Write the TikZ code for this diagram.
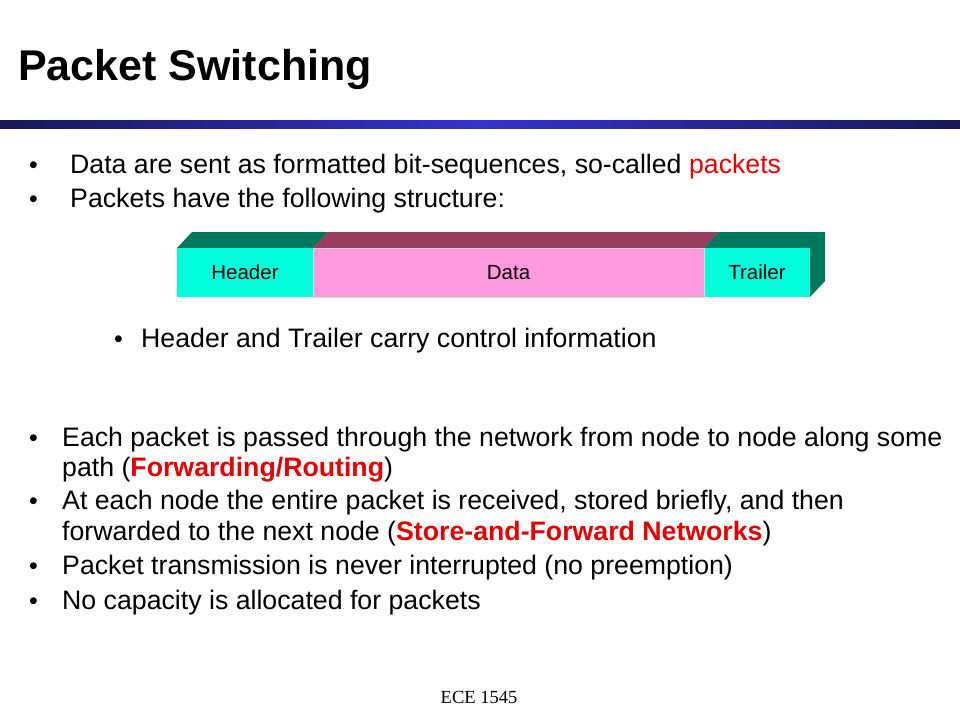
\documentclass[tikz,border=0pt]{standalone}
\usepackage{fontspec}
\setmainfont{Liberation Sans}
\newfontfamily\footfont{Liberation Serif}
\definecolor{navyedge}{RGB}{24,24,90}
\definecolor{navymid}{RGB}{51,51,208}
\definecolor{frontcyan}{RGB}{0,255,221}
\definecolor{topgreen}{RGB}{0,120,94}
\definecolor{frontpink}{RGB}{255,153,221}
\definecolor{topmaroon}{RGB}{153,61,94}
\definecolor{hired}{RGB}{230,0,0}
\tikzset{
  bodytext/.style={anchor=base west, inner sep=0pt, font=\fontsize{26.7}{31}\selectfont},
  bulletmark/.style={anchor=base west, inner sep=0pt, font=\fontsize{25}{31}\selectfont},
  pktlabel/.style={inner sep=0pt, font=\fontsize{20.5}{24}\selectfont}
}
\begin{document}
\begin{tikzpicture}[x=1pt,y=-1pt]
\useasboundingbox (0,0) rectangle (960,720);
\fill[white] (0,0) rectangle (960,720);
% title
\node[anchor=base west, inner sep=0pt, font=\fontsize{43}{50}\selectfont\bfseries] (title) at (18,80) {Packet Switching};
% bar
\shade[left color=navyedge, right color=navyedge, middle color=navymid] (0,120) rectangle (960,128);
% bullets top
\node[bulletmark] (b1) at (29,173.5) {•};
\node[bodytext] (t1) at (70,173.5) {Data are sent as formatted bit-sequences, so-called \textcolor{hired}{packets}};
\node[bulletmark] (b2) at (29,207.5) {•};
\node[bodytext] (t2) at (70,207.5) {Packets have the following structure:};
% packet
\fill[topgreen] (177,248) -- (192,232) -- (328,232) -- (313,248) -- cycle;
\fill[topmaroon] (313,248) -- (328,232) -- (719,232) -- (704,248) -- cycle;
\fill[topgreen] (704,248) -- (719,232) -- (825,232) -- (825,281) -- (810,297) -- (810,248) -- cycle;
\fill[frontcyan] (177,248) rectangle (313,297);
\fill[frontpink] (313,248) rectangle (704,297);
\fill[frontcyan] (704,248) rectangle (810,297);
\draw[black!15, line width=0.6pt] (313,248) rectangle (704,297);
\node[pktlabel] (hdr) at (245,272.5) {Header};
\node[pktlabel] (dat) at (508.5,272.5) {Data};
\node[pktlabel] (trl) at (757,272.5) {Trailer};
% sub bullet
\node[bulletmark] (b3) at (114,347.5) {•};
\node[bodytext] (t3) at (141,347.5) {Header and Trailer carry control information};
% lower bullets
\node[bulletmark] (b4) at (29,446.5) {•};
\node[bodytext] (t4) at (62,446.5) {Each packet is passed through the network from node to node along some};
\node[bodytext] (t4b) at (62,476.5) {path (\textcolor{hired}{\bfseries Forwarding/Routing})};
\node[bulletmark] (b5) at (29,509.5) {•};
\node[bodytext] (t5) at (62,509.5) {At each node the entire packet is received, stored briefly, and then};
\node[bodytext] (t5b) at (62,540.5) {forwarded to the next node (\textcolor{hired}{\bfseries Store-and-Forward Networks})};
\node[bulletmark] (b6) at (29,574.5) {•};
\node[bodytext] (t6) at (62,574.5) {Packet transmission is never interrupted (no preemption)};
\node[bulletmark] (b7) at (29,609.5) {•};
\node[bodytext] (t7) at (62,609.5) {No capacity is allocated for packets};
% footer
\node[anchor=base, inner sep=0pt, font=\footfont\fontsize{18.5}{22}\selectfont] (foot) at (479,703) {ECE 1545};
\end{tikzpicture}
\end{document}
